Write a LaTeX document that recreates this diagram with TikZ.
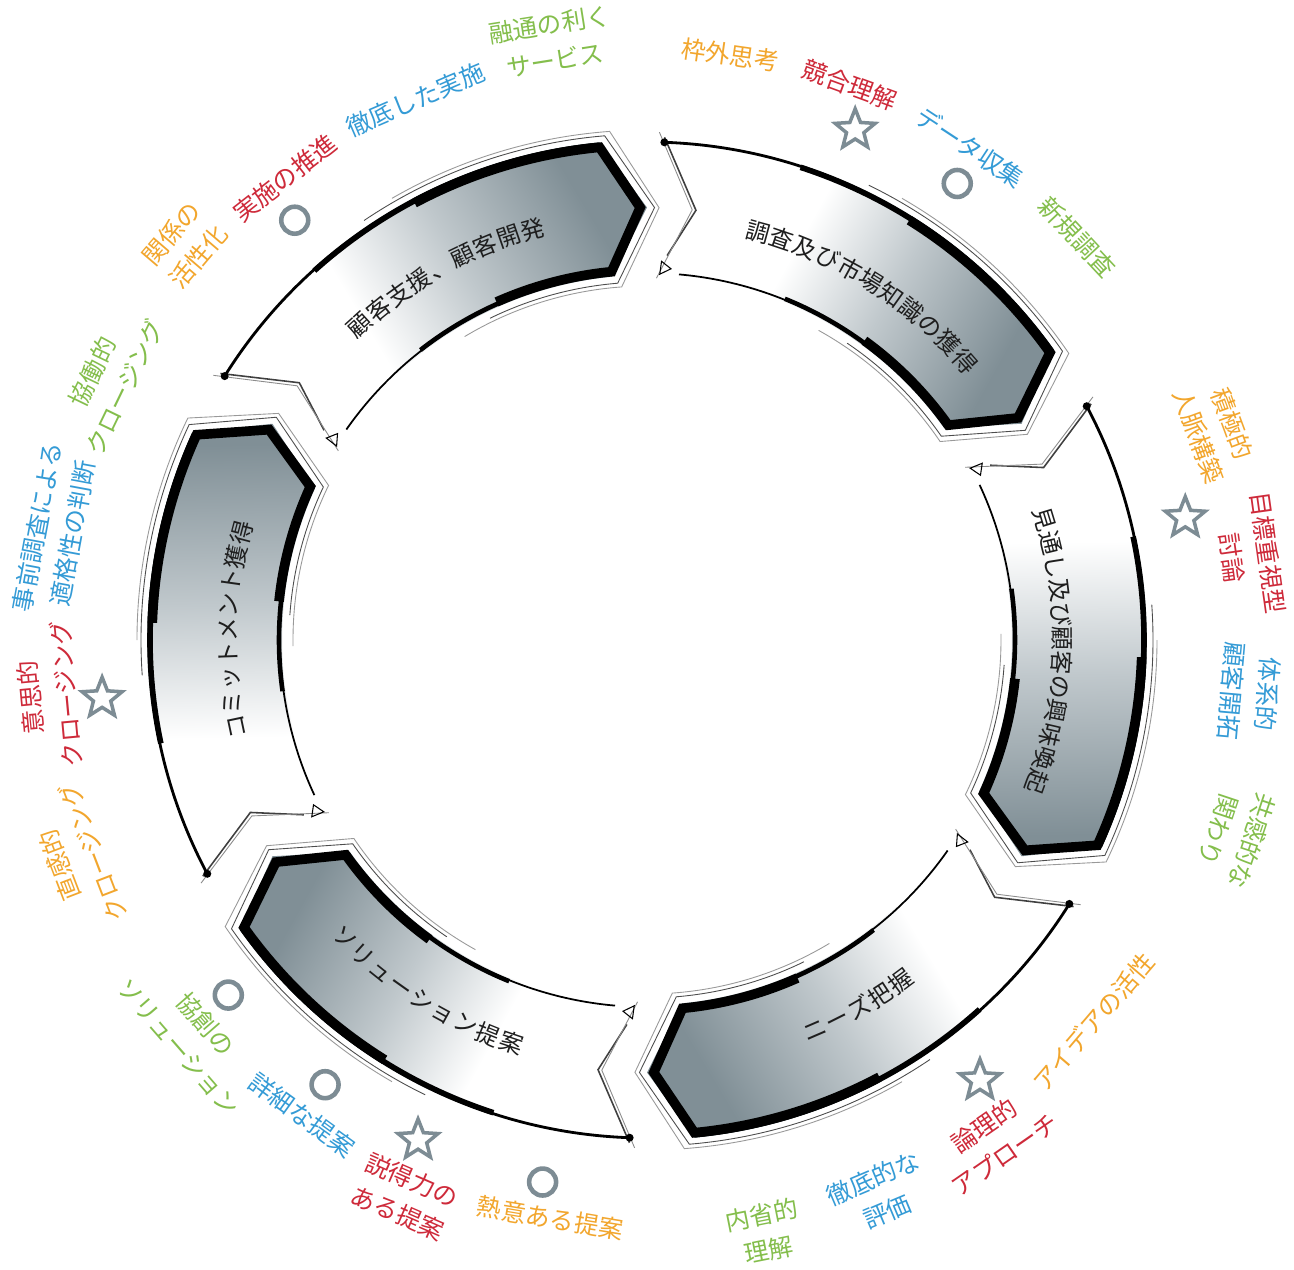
\documentclass[tikz,border=0pt]{standalone}
\usepackage{fontspec}
\newfontfamily\jpfontfam{Noto Sans CJK JP}
\usetikzlibrary{shapes.geometric}
\definecolor{hd}{RGB}{128,143,150}
\definecolor{md}{RGB}{192,200,204}
\definecolor{cOr}{RGB}{242,166,45}
\definecolor{cRd}{RGB}{206,42,58}
\definecolor{cBl}{RGB}{52,155,214}
\definecolor{cGr}{RGB}{132,190,76}
\definecolor{sym}{RGB}{125,140,148}
\definecolor{ink}{RGB}{30,30,30}
\pgfdeclareverticalshading{arrowshade}{100bp}{color(0bp)=(hd); color(27bp)=(hd); color(45bp)=(md); color(60bp)=(white); color(100bp)=(white)}
\newcommand\ringarrow[2]{%
 \pgfmathsetmacro\rgT{#2}%
 \pgfmathsetmacro\rgH{#2-52.5}%
 \pgfmathsetmacro\rgP{#2-58}%
 \pgfmathsetmacro\rgN{#2-4.5}%
 \pgfmathsetmacro\rgM{#2-27}%
 \pgfmathsetmacro\rgB{#2-30}%
 \pgfmathsetmacro\rgC{#2-16}%
 \shade[shading=arrowshade, shading angle=\rgM] (\rgT:500) arc[start angle=\rgT, end angle=\rgH, radius=500] -- (\rgP:432.5) -- (\rgH:365) arc[start angle=\rgH, end angle=\rgT, radius=365] -- (\rgN:432.5) -- cycle;
 \draw[line width=0.9pt, black!75] (\rgT:503) -- (\rgN:432.5) -- ({\rgT-1}:385);
 \draw[line width=0.5pt, black!45] ({\rgT+0.6}:508) -- ({\rgN+0.5}:432.5) -- ({\rgT+0.5}:362);
 \draw[line width=0.6pt] (\rgT:366) -- ({\rgT-1.7}:372) -- ({\rgT-0.2}:379) -- cycle;
 \draw[line width=1.6pt, line cap=round] (\rgT:498) arc[start angle=\rgT, end angle=\rgH, radius=498];
 \draw[line width=3.2pt] (\rgC:497) arc[start angle=\rgC, end angle=\rgH, radius=497];
 \draw[line width=1pt] ({\rgT-3}:367) arc[start angle=\rgT-3, end angle=\rgH, radius=367];
 \draw[line width=2.6pt] ({\rgC-4}:368) arc[start angle=\rgC-4, end angle=\rgH, radius=368];
 \draw[line width=5.5pt, line join=miter] (\rgB:495) arc[start angle=\rgB, end angle=\rgH, radius=495] -- ({\rgP+0.9}:432.5) -- (\rgH:370) arc[start angle=\rgH, end angle=\rgB-4, radius=370];
 \draw[sketchA] ({\rgB+6}:506) arc[start angle=\rgB+6, end angle=\rgH-0.7, radius=506] -- ({\rgP-1.0}:432.5) -- ({\rgH-0.8}:358) arc[start angle=\rgH-0.8, end angle=\rgB-2, radius=358];
 \draw[sketchB] ({\rgB+2}:510) arc[start angle=\rgB+2, end angle=\rgH-1.3, radius=510] -- ({\rgP-1.6}:432.5) -- ({\rgH-1.4}:354) arc[start angle=\rgH-1.4, end angle=\rgB+3, radius=354];
 \fill (\rgT:498) circle[radius=4];
 \coordinate (#1) at (\rgM:432.5);
}
% #1 name, #2 centre angle, #3 direction (1 clockwise, -1 anticlockwise), #4 radius, #5 number of characters, #6 characters
\newcommand\ringtext[6]{%
 \foreach \ch [count=\ci] in {#6} {%
  \pgfmathsetmacro\chA{#2+#3*((#5+1)/2-\ci)*3.35}%
  \pgfmathsetmacro\chR{\chA-90*#3}%
  \node[chsty, rotate=\chR] (#1-\ci) at (\chA:#4) {\vphantom{国}\ch};
 }%
}
% one-line label: #1 name, #2 position, #3 rotation, #4 colour, #5 text
\newcommand\ringlabel[5]{\node[labsty, text=#4, rotate=#3] (#1) at (#2) {#5};}
% two-line label: #1 name, #2 angle, #3 radius, #4 rotation, #5 colour, #6 first line, #7 second line, #8 1 = first line outside, -1 = inside
\newcommand\ringlabelii[8]{%
 \node[labsty, text=#5, rotate=#4] (#1a) at ({#2}:{#3+18*#8}) {#6};
 \node[labsty, text=#5, rotate=#4] (#1b) at ({#2}:{#3-18*#8}) {#7};
}
\begin{document}
\begin{tikzpicture}[x=0.02cm, y=0.02cm,
  labsty/.style={font=\jpfontfam\fontsize{14}{17}\selectfont, inner sep=0pt},
  chsty/.style={font=\jpfontfam\fontsize{13.5}{16}\selectfont, text=ink, inner sep=0pt},
  starsym/.style={star, star points=5, star point ratio=2.3, minimum size=0.84cm, draw=sym, line width=2pt, inner sep=0pt},
  circsym/.style={circle, minimum size=0.54cm, draw=sym, line width=2.6pt, inner sep=0pt},
  sketchA/.style={line width=0.5pt, black!70},
  sketchB/.style={line width=0.5pt, black!40}]
\useasboundingbox[fill=white] (-647,-629) rectangle (647,640);
% ring of arrows
\ringarrow{a1}{88}
\ringarrow{a2}{28}
\ringarrow{a3}{-32}
\ringarrow{a4}{-92}
\ringarrow{a5}{-152}
\ringarrow{a6}{148}
% arrow texts
\ringtext{t1}{58}{1}{423}{11}{調,査,及,び,市,場,知,識,の,獲,得}
\ringtext{t2}{-1.5}{1}{415}{12}{見,通,し,及,び,顧,客,の,興,味,喚,起}
\ringtext{t3}{-60}{-1}{425}{5}{ニ,ー,ズ,把,握}
\ringtext{t4}{-122}{-1}{425}{9}{ソ,リ,ュ,ー,シ,ョ,ン,提,案}
\ringtext{t5}{178.6}{1}{419}{9}{コ,ミ,ッ,ト,メ,ン,ト,獲,得}
\ringtext{t6}{119}{1}{426}{9}{顧,客,支,援,、,顧,客,開,発}
% symbols
\node[starsym] (s1) at (67.8:551) {};
\node[starsym] (s2) at (12.8:552) {};
\node[starsym] (s3) at (186.1:548) {};
\node[starsym] (s4) at (245.4:550) {};
\node[starsym] (s5) at (307.1:552) {};
\node[circsym] (c1) at (55.8:552) {};
\node[circsym] (c2) at (130:548) {};
\node[circsym] (c3) at (220.3:549) {};
\node[circsym] (c4) at (234.1:549) {};
\node[circsym] (c5) at (259.1:552) {};
% labels
\ringlabelii{l1}{99}{605}{9}{cGr}{融通の利く}{サービス}{1}
\ringlabel{l2}{113.2:588}{23.2}{cBl}{徹底した実施}
\ringlabel{l3}{128.1:587}{38.1}{cRd}{実施の推進}
\ringlabelii{l4}{139.5}{608}{49.5}{cOr}{関係の}{活性化}{1}
\ringlabelii{l5}{154.2}{598}{64.2}{cGr}{協働的}{クロージング}{1}
\ringlabelii{l6}{169.5}{602}{79.5}{cBl}{事前調査による}{適格性の判断}{1}
\ringlabelii{l7}{185.3}{601}{95.3}{cRd}{意思的}{クロージング}{1}
\ringlabelii{l8}{201}{611}{111}{cOr}{直感的}{クロージング}{1}
\ringlabelii{l9}{221}{603}{-49}{cGr}{協創の}{ソリューション}{-1}
\ringlabel{l10}{234:587}{-36}{cBl}{詳細な提案}
\ringlabelii{l11}{246.5}{607}{-23.5}{cRd}{説得力の}{ある提案}{-1}
\ringlabel{l12}{260.5:586}{-9.5}{cOr}{熱意ある提案}
\ringlabelii{l13}{281.3}{604}{11.3}{cGr}{内省的}{理解}{-1}
\ringlabelii{l14}{292.8}{602}{22.8}{cBl}{徹底的な}{評価}{-1}
\ringlabelii{l15}{304.8}{609}{34.8}{cRd}{論理的}{アプローチ}{-1}
\ringlabel{l16}{319.5:588}{49.5}{cOr}{アイデアの活性}
\ringlabelii{l17}{341.6}{620}{-108.4}{cGr}{共感的な}{関わり}{1}
\ringlabelii{l18}{355}{605}{-95}{cBl}{体系的}{顧客開拓}{1}
\ringlabelii{l19}{8}{609}{-82}{cRd}{目標重視型}{討論}{1}
\ringlabelii{l20}{20.3}{606}{-69.7}{cOr}{積極的}{人脈構築}{1}
\ringlabel{l21}{81.9:591}{-8.1}{cOr}{枠外思考}
\ringlabel{l22}{69.9:591}{-20.1}{cRd}{競合理解}
\ringlabel{l23}{56.7:589}{-33.3}{cBl}{データ収集}
\ringlabel{l24}{43.1:589}{-46.9}{cGr}{新規調査}
\end{tikzpicture}
\end{document}
